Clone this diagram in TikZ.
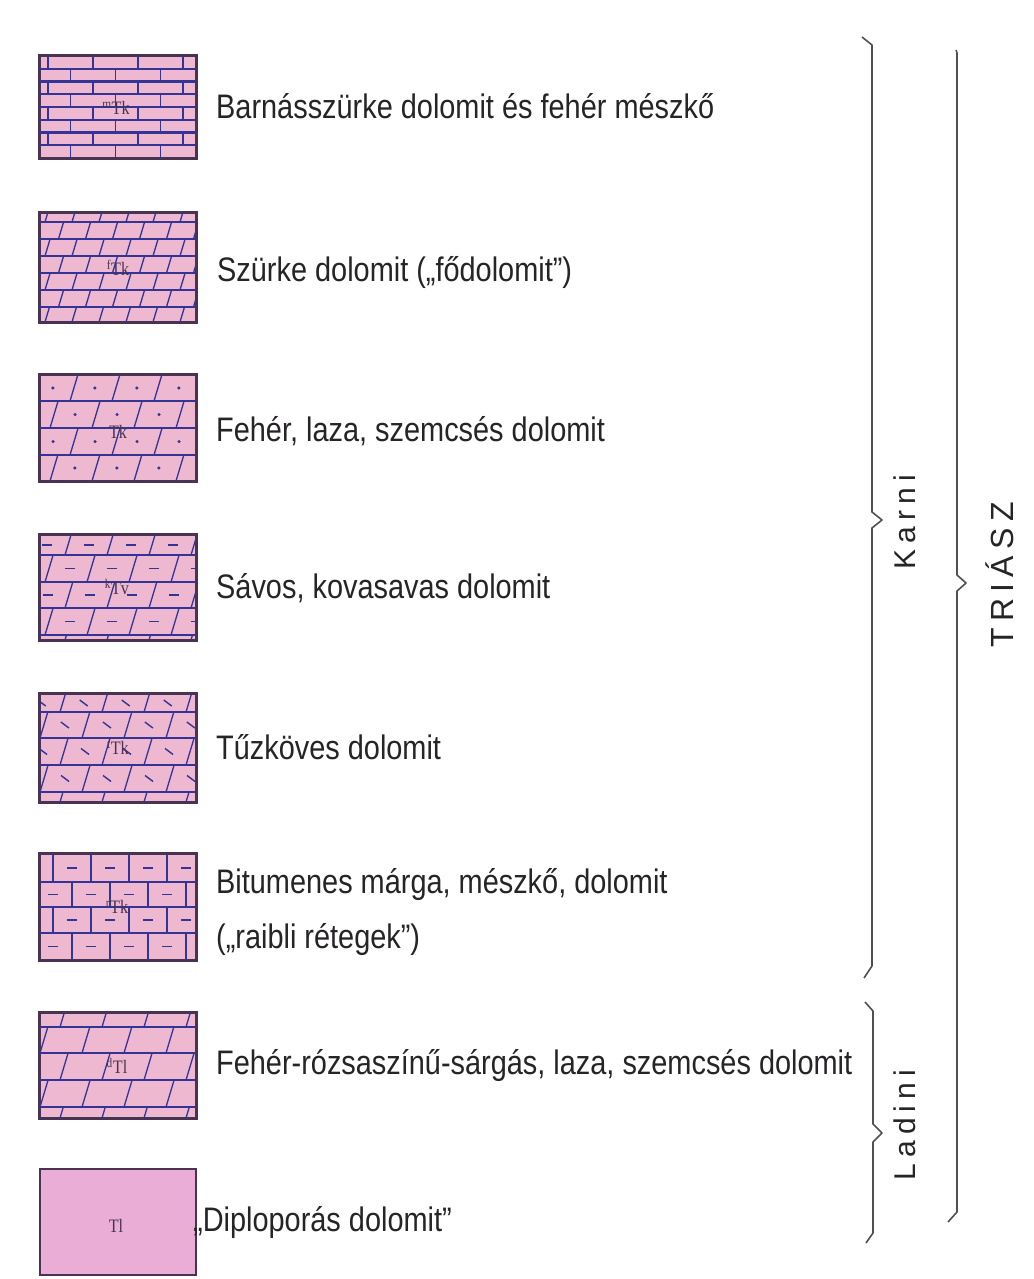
\documentclass[tikz,border=0pt]{standalone}
\usepackage{fontspec}
\setmainfont{Liberation Sans}
\newfontfamily\descfont[FakeStretch=0.85]{Liberation Sans}
\newfontfamily\agefont[LetterSpace=20]{Liberation Sans}
\newfontfamily\codefont[FakeStretch=0.85]{Liberation Serif}

\definecolor{rosy}{RGB}{238,184,208}
\definecolor{rosyplain}{RGB}{234,174,214}
\definecolor{ink}{RGB}{52,52,150}
\definecolor{edge}{RGB}{72,52,82}
\definecolor{txt}{RGB}{38,36,38}
\definecolor{bracecol}{RGB}{80,80,80}

\tikzset{
  layer/.style={draw=edge, line width=1.8pt, fill=rosy, minimum width=156pt,
    minimum height=#1, inner sep=0pt},
  bed/.style={draw=ink, line width=1.6pt},
  joint/.style={draw=ink, line width=1.3pt},
  desc/.style={anchor=base west, text=txt, inner sep=0pt,
    font=\descfont\fontsize{34}{38}\selectfont},
  code/.style={text=edge, inner sep=0pt, font=\codefont\fontsize{19}{21}\selectfont},
  bracket/.style={draw=bracecol, line width=1.6pt, line join=round},
  age/.style={rotate=90, text=txt, inner sep=0pt}
}

% Bricks: rows given as top/bottom/offset/markflag; joints lean by the
% given ratio; the mark macro is drawn at the centre of each brick.
\newcommand\brickrows[4]{%
  \foreach \yt/\yb/\off/\mk in {#1}{%
    \foreach \k in {-1,...,7}{%
      \pgfmathsetmacro\xb{40+\off+#2*\k}%
      \pgfmathsetmacro\xt{\xb+#3*(\yb-\yt)}%
      \pgfmathsetmacro\cx{(\xb+\xt)/2+#2/2}%
      \pgfmathsetmacro\cy{(\yt+\yb)/2}%
      \draw[joint] (\xb,\yb) -- (\xt,\yt);%
      \ifnum\mk=1 #4\fi
    }%
  }}
\newcommand\nomark{}
\newcommand\mdot{\fill[ink] (\cx,\cy) circle (1.7);}
\newcommand\mdash{\draw[ink, line width=1.6pt] (\cx-5,\cy) -- (\cx+5,\cy);}
\newcommand\mtick{\draw[ink, line width=1.4pt] (\cx-4,\cy-3) -- (\cx+4,\cy+3);}

\begin{document}
\begin{tikzpicture}[x=1pt, y=-1pt]
\useasboundingbox (0,0) rectangle (1033,1279);
\fill[white] (0,0) rectangle (1033,1279);

% ---------- layer 1: thin horizontal bricks ----------
\node[layer=102pt] (b1) at (118,107) {};
\begin{scope}
  \clip (40,56) rectangle (196,158);
  \brickrows{56/68.75/8/0, 68.75/81.5/30.5/0, 81.5/94.25/8/0, 94.25/107/30.5/0,
    107/119.75/8/0, 119.75/132.5/30.5/0, 132.5/145.25/8/0, 145.25/158/30.5/0}{45}{0}{\nomark}
  \foreach \y in {68.75,81.5,94.25,107,119.75,132.5,145.25} \draw[bed, line width=2.2pt] (40,\y) -- (196,\y);
\end{scope}
\draw[edge, line width=1.8pt] (b1.south west) rectangle (b1.north east);
\node[code] (c1) at (116,108) {\textsuperscript{m}Tk};

% ---------- layer 2: oblique bricks ----------
\node[layer=109pt] (b2) at (118,267.5) {};
\begin{scope}
  \clip (40,213) rectangle (196,322);
  \brickrows{213/222/5/0, 222/239/18.5/0, 239/256/5/0, 256/273/18.5/0, 273/290/5/0,
    290/307/18.5/0, 307/322/5/0}{27}{0.3}{\nomark}
  \foreach \y in {222,239,256,273,290,307} \draw[bed] (40,\y) -- (196,\y);
\end{scope}
\draw[edge, line width=1.8pt] (b2.south west) rectangle (b2.north east);
\node[code] (c2) at (118,268) {\textsuperscript{f}Tk};

% ---------- layer 3: oblique bricks with dots ----------
\node[layer=106pt] (b3) at (118,428) {};
\begin{scope}
  \clip (40,375) rectangle (196,481);
  \brickrows{375/401/30/1, 401/428/10/1, 428/455/30/1, 455/481/10/1}{42}{0.3}{\mdot}
  \foreach \y in {401,428,455} \draw[bed] (40,\y) -- (196,\y);
\end{scope}
\draw[edge, line width=1.8pt] (b3.south west) rectangle (b3.north east);
\node[code] (c3) at (118,432) {Tk};

% ---------- layer 4: oblique bricks with dashes ----------
\node[layer=105pt] (b4) at (118,587.5) {};
\begin{scope}
  \clip (40,535) rectangle (196,640);
  \brickrows{535/555/25/1, 555/582/5/1, 582/608/25/1, 608/635/5/1, 635/640/25/0}{42}{0.3}{\mdash}
  \foreach \y in {555,582,608,635} \draw[bed] (40,\y) -- (196,\y);
\end{scope}
\draw[edge, line width=1.8pt] (b4.south west) rectangle (b4.north east);
\node[code] (c4) at (117,587) {\textsuperscript{k}Tv};

% ---------- layer 5: oblique bricks with ticks ----------
\node[layer=108pt] (b5) at (118,748) {};
\begin{scope}
  \clip (40,694) rectangle (196,802);
  \brickrows{694/712/20/1, 712/738/0/1, 738/765/20/1, 765/792/0/1, 792/802/20/0}{42}{0.3}{\mtick}
  \foreach \y in {712,738,765,792} \draw[bed] (40,\y) -- (196,\y);
\end{scope}
\draw[edge, line width=1.8pt] (b5.south west) rectangle (b5.north east);
\node[code] (c5) at (118,748) {\textsuperscript{t}Tk};

% ---------- layer 6: upright bricks with dashes ----------
\node[layer=106pt] (b6) at (118,907) {};
\begin{scope}
  \clip (40,854) rectangle (196,960);
  \brickrows{854/882/13/1, 882/907/32/1, 907/933/13/1, 933/960/32/1}{38}{0}{\mdash}
  \foreach \y in {882,907,933} \draw[bed] (40,\y) -- (196,\y);
\end{scope}
\draw[edge, line width=1.8pt] (b6.south west) rectangle (b6.north east);
\node[code] (c6) at (117,907) {\textsuperscript{r}Tk};

% ---------- layer 7: oblique bricks ----------
\node[layer=105pt] (b7) at (118,1065.5) {};
\begin{scope}
  \clip (40,1013) rectangle (196,1118);
  \brickrows{1013/1027/20/0, 1027/1053/0/0, 1053/1080/20/0, 1080/1107/0/0, 1107/1118/20/0}{42}{0.3}{\nomark}
  \foreach \y in {1027,1053,1080,1107} \draw[bed] (40,\y) -- (196,\y);
\end{scope}
\draw[edge, line width=1.8pt] (b7.south west) rectangle (b7.north east);
\node[code] (c7) at (117,1066) {\textsuperscript{d}Tl};

% ---------- layer 8: plain ----------
\node[layer=106pt, fill=rosyplain] (b8) at (118,1222) {};
\node[code] (c8) at (116,1226) {Tl};

% ---------- descriptions ----------
\node[desc] (t1) at (216,119) {Barnásszürke dolomit és fehér mészkő};
\node[desc] (t2) at (217,281) {Szürke dolomit („fődolomit”)};
\node[desc] (t3) at (216,441) {Fehér, laza, szemcsés dolomit};
\node[desc] (t4) at (216,598) {Sávos, kovasavas dolomit};
\node[desc] (t5) at (216,759) {Tűzköves dolomit};
\node[desc] (t6) at (216,893) {Bitumenes márga, mészkő, dolomit};
\node[desc] (t6b) at (216,948) {(„raibli rétegek”)};
\node[desc] (t7) at (216,1074) {Fehér-rózsaszínű-sárgás, laza, szemcsés dolomit};
\node[desc] (t8) at (193,1231) {„Diploporás dolomit”};

% ---------- stage and system brackets ----------
\draw[bracket] (862,37) -- (872,45) -- (872,512) -- (882,520) -- (872,528) -- (872,966) -- (864,978);
\draw[bracket] (865,1002) -- (873,1011) -- (873,1124) -- (882,1133) -- (873,1142) -- (873,1233) -- (866,1243);
\draw[bracket] (956,50) -- (957,53) -- (957,575) -- (966,583) -- (957,591) -- (957,1212) -- (948,1222);

\node[age, font=\agefont\fontsize{30}{32}\selectfont] (karni) at (905,522) {Karni};
\node[age, font=\agefont\fontsize{30}{32}\selectfont] (ladini) at (905,1125) {Ladini};
\node[age, font=\agefont\fontsize{32}{34}\selectfont] (triasz) at (1000,575) {TRIÁSZ};
\end{tikzpicture}
\end{document}
